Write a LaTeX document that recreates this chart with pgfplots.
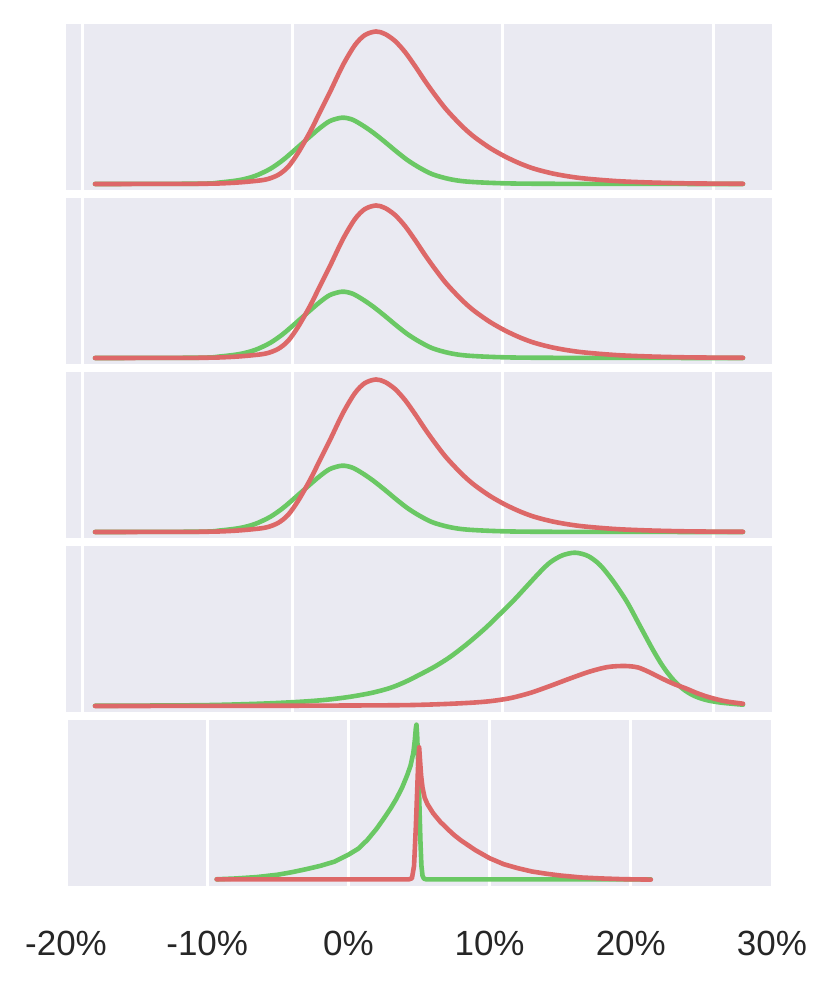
\documentclass[border=0pt]{standalone}
\usepackage{fontspec}
\setmainfont{Liberation Sans}
\usepackage{pgfplots}
\pgfplotsset{compat=1.18}
\definecolor{bg}{RGB}{234,234,242}
\definecolor{cred}{RGB}{221,104,104}
\definecolor{cgreen}{RGB}{106,200,100}
\definecolor{tc}{RGB}{38,38,38}
\pgfplotsset{
  ridge/.style={
    scale only axis, width=353pt, height=82.75pt, anchor=south west,
    axis background/.style={fill=bg},
    axis line style={draw=none},
    xmajorgrids, ymajorgrids=false,
    grid style={white, line width=1.5pt},
    major tick length=0pt,
    ytick=\empty,
    ymin=0, ymax=165.5,
  },
  top/.style={ridge, xmin=66, xmax=772, xtick={82,292,502,713}, xticklabels={}},
  gline/.style={cgreen, line width=2.3pt, line cap=round, line join=round},
  rline/.style={cred, line width=2.3pt, line cap=round, line join=round},
}
\pgfplotstableread{
x h
95 6
200 6.2
230 7
250 8.5
266 10.5
278 15
288 23
298 37
310 58
320 78
330 98
343 125
355 145
365 155
376 158.5
385 156
395 149
405 138
415 124
425 109
435 95
445 82
455 71
465 61
475 52.5
490 42
505 33.5
520 26.5
535 21
555 16
580 12
615 9
650 7.5
690 6.6
743 6.2
}\redA
\pgfplotstableread{
x h
95 6
200 6.3
220 7.5
240 10
255 14
270 21
283 30
297 42
310 53.5
320 62
330 69
342 72.3
352 70.5
362 65
373 57.5
385 48
397 38
408 29.5
420 22
433 15.5
450 10.8
467 8.4
500 6.8
550 6.2
743 6
}\greenA
\pgfplotstableread{
x h
95 6
200 6.1
300 6.3
400 6.8
440 7.8
470 9.2
490 10.8
510 13.8
530 19
550 26
570 33.5
590 40.5
608 45
625 46
638 44.5
650 39.5
662 33.5
674 28
686 23.5
698 18.5
710 14.5
725 10.8
743 8.3
}\redD
\pgfplotstableread{
x h
95 6.2
200 6.8
260 8.3
300 10.2
327 12.3
350 15.2
372 19.2
390 24
405 30
420 37.5
435 45.5
450 55
467 68
485 83.5
500 98
515 113
527 126
540 140
550 149.5
562 156.5
575 159.3
588 156
600 147
613 131
627 110
640 86
653 62
663 45.5
673 32.5
683 23
693 16.7
705 12.3
720 9.5
743 7.3
}\greenD
\pgfplotstableread{
x h
-9.33 6.4
-8 7.2
-6.5 8.6
-5 11
-4 13.5
-3 16.5
-2 19.8
-1 24
0 31
0.7 37
1.34 45.7
2 57
2.5 67
3 77.5
3.4 87
3.8 98
4.15 110
4.4 120
4.6 133
4.7 145
4.78 158
4.82 161
4.87 150
4.95 120
5.03 80
5.1 45
5.17 20
5.25 10
5.35 7
5.5 6.4
21.4 6.4
}\greenE
\pgfplotstableread{
x h
-9.33 6.4
4.3 6.4
4.5 7.4
4.65 20
4.78 60
4.85 87
4.93 118
5.01 138.4
5.08 124
5.15 110
5.25 98
5.4 88
5.6 81.5
6.0 72.5
6.5 64
7.0 57
7.5 50.5
8.0 45
9.0 35.5
10.0 27.5
11.0 21.5
12.0 17.5
13.0 14.2
14.0 12
15.0 10.2
16.5 8.2
18.0 7.2
19.5 6.5
21.42 6.1
}\redE
\begin{document}
\begin{tikzpicture}
\path[use as bounding box] (0,0) rectangle (416pt,492pt);
% panel 1
\begin{axis}[top, at={(33pt,397pt)}]
\addplot[gline, smooth] table[x=x,y=h] {\greenA};
\addplot[rline, smooth] table[x=x,y=h] {\redA};
\end{axis}
% panel 2
\begin{axis}[top, at={(33pt,310pt)}]
\addplot[gline, smooth] table[x=x,y=h] {\greenA};
\addplot[rline, smooth] table[x=x,y=h] {\redA};
\end{axis}
% panel 3
\begin{axis}[top, at={(33pt,223pt)}]
\addplot[gline, smooth] table[x=x,y=h] {\greenA};
\addplot[rline, smooth] table[x=x,y=h] {\redA};
\end{axis}
% panel 4
\begin{axis}[top, at={(33pt,136pt)}]
\addplot[gline, smooth] table[x=x,y=h] {\greenD};
\addplot[rline, smooth] table[x=x,y=h] {\redD};
\end{axis}
% panel 5
\begin{axis}[ridge, at={(33pt,49.15pt)},
  xmin=-20, xmax=30,
  xtick={-20,-10,0,10,20,30},
  xticklabels={-20\%,-10\%,0\%,10\%,20\%,30\%},
  /pgf/number format/assume math mode=true,
  xticklabel style={font=\fontsize{17.5}{21}\selectfont, text=tc, anchor=base, yshift=-34.9pt},
]
\addplot[gline] table[x=x,y=h] {\greenE};
\addplot[rline] table[x=x,y=h] {\redE};
\end{axis}
\end{tikzpicture}
\end{document}
